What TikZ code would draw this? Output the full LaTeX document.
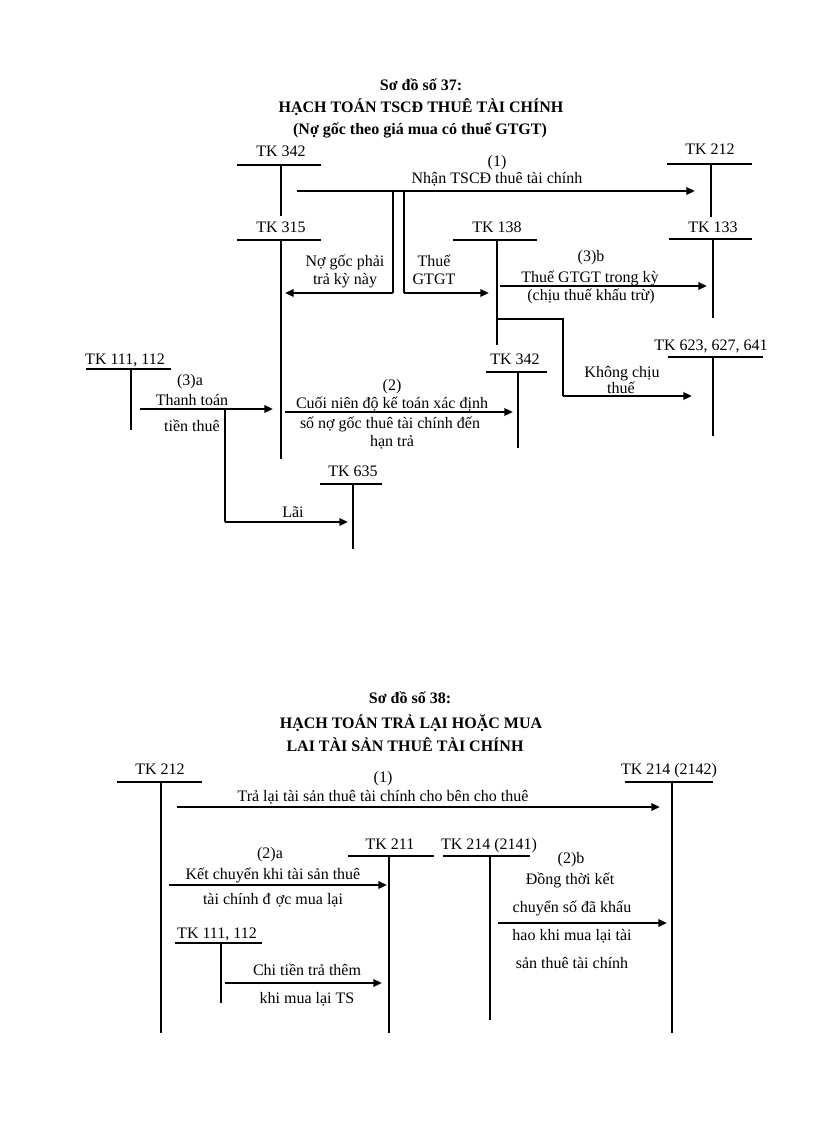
\documentclass[tikz,border=0pt]{standalone}
\usepackage{fontspec}
\setmainfont{Liberation Serif}
\usetikzlibrary{arrows.meta}
\newcommand\tacct[9]{%
  \node[lbl] (#1) at (#3,#4) {#2};
  \coordinate (#1-l) at (#5,#7);
  \coordinate (#1-r) at (#6,#7);
  \coordinate (#1-t) at (#8,#7);
  \coordinate (#1-b) at (#8,#9);
  \draw[tline] (#1-l) -- (#1-r);
  \draw[tline] (#1-t) -- (#1-b);
}
\begin{document}
\begin{tikzpicture}[x=0.75pt,y=-0.75pt,
  lbl/.style={font=\fontsize{12}{14}\selectfont, inner sep=0pt, anchor=base},
  ttl/.style={font=\fontsize{12}{14}\selectfont\bfseries, inner sep=0pt, anchor=base},
  tline/.style={line width=1.2pt},
  conn/.style={line width=1.3pt},
  arr/.style={line width=1.6pt, -{Triangle[length=6.5pt,width=5.5pt]}}]
\useasboundingbox (0,0) rectangle (816,1123);

% ---------------- Diagram 37 ----------------
\node[ttl] (t37a) at (421,91) {Sơ đồ số 37:};
\node[ttl] (t37b) at (421,113) {HẠCH TOÁN TSCĐ THUÊ TÀI CHÍNH};
\node[ttl] (t37c) at (420,135) {(Nợ gốc theo giá mua có thuế GTGT)};

\tacct{a342}{TK 342}{281}{157}{237}{321}{165}{281}{216}
\tacct{a212}{TK 212}{710}{155}{667}{752}{164}{711}{217}
\tacct{a315}{TK 315}{281}{233}{237}{321}{240}{281}{459}
\tacct{a138}{TK 138}{497}{233}{453}{537}{240}{497}{345}
\tacct{a133}{TK 133}{713}{233}{669}{752}{239}{713}{318}
\tacct{a623}{TK 623, 627, 641}{711}{350}{668}{763}{357}{713}{436}
\tacct{a342b}{TK 342}{515}{364}{486}{547}{372}{518}{448}
\tacct{a111}{TK 111, 112}{125}{364}{86}{171}{369}{131}{430}
\tacct{a635}{TK 635}{353}{476}{320}{382}{484}{353}{549}

% (1)
\coordinate (p1s) at (297,191);
\coordinate (p1e) at (695,191);
\draw[arr] (p1s) -- (p1e);
\node[lbl] (l1a) at (497,167) {(1)};
\node[lbl] (l1b) at (497,184) {Nhận TSCĐ thuê tài chính};

% branches from (1)
\coordinate (bl1) at (393,191);
\coordinate (bl2) at (393,293);
\coordinate (bl3) at (285,293);
\draw[conn] (bl1) -- (bl2);
\draw[arr] (bl2) -- (bl3);
\node[lbl] (lng1) at (345,267) {Nợ gốc phải};
\node[lbl] (lng2) at (345,284) {trả kỳ này};

\coordinate (br1) at (404,191);
\coordinate (br2) at (404,293);
\coordinate (br3) at (489,293);
\draw[conn] (br1) -- (br2);
\draw[arr] (br2) -- (br3);
\node[lbl] (lth1) at (434,267) {Thuế};
\node[lbl] (lth2) at (434,284) {GTGT};

% (3)b
\coordinate (p3bs) at (500,286);
\coordinate (p3be) at (707,286);
\draw[arr] (p3bs) -- (p3be);
\node[lbl] (l3b1) at (591,262) {(3)b};
\node[lbl] (l3b2) at (590,282) {Thuế GTGT trong kỳ};
\node[lbl] (l3b3) at (591,300) {(chịu thuế khấu trừ)};

% không chịu thuế
\coordinate (k1) at (497,319);
\coordinate (k2) at (563,319);
\coordinate (k3) at (563,396);
\coordinate (k4) at (692,396);
\draw[conn] (k1) -- (k2) -- (k3);
\draw[arr] (k3) -- (k4);
\node[lbl] (lk1) at (622,377) {Không chịu};
\node[lbl] (lk2) at (621,393) {thuế};

% (2)
\coordinate (p2s) at (285,412);
\coordinate (p2e) at (513,412);
\draw[arr] (p2s) -- (p2e);
\node[lbl] (l2a) at (392,390) {(2)};
\node[lbl] (l2b) at (392,408) {Cuối niên độ kế toán xác định};
\node[lbl] (l2c) at (390,428) {số nợ gốc thuê tài chính đến};
\node[lbl] (l2d) at (392,446) {hạn trả};

% (3)a
\coordinate (p3as) at (140,409);
\coordinate (p3ae) at (273,409);
\draw[arr] (p3as) -- (p3ae);
\node[lbl] (l3a1) at (190,385) {(3)a};
\node[lbl] (l3a2) at (192,405) {Thanh toán};
\node[lbl] (l3a3) at (192,431) {tiền thuê};

% Lãi
\coordinate (q1) at (225,409);
\coordinate (q2) at (225,522);
\coordinate (q3) at (348,522);
\draw[conn] (q1) -- (q2);
\draw[arr] (q2) -- (q3);
\node[lbl] (llai) at (293,517) {Lãi};

% ---------------- Diagram 38 ----------------
\node[ttl] (t38a) at (410,703) {Sơ đồ số 38:};
\node[ttl] (t38b) at (411,728) {HẠCH TOÁN TRẢ LẠI HOẶC MUA};
\node[ttl] (t38c) at (405,751) {LAI TÀI SẢN THUÊ TÀI CHÍNH};

\tacct{b212}{TK 212}{160}{774}{117}{202}{782}{161}{1033}
\tacct{b2142}{TK 214 (2142)}{669}{774}{625}{713}{782}{672}{1033}
\tacct{b211}{TK 211}{390}{849}{348}{434}{856}{389}{1033}
\tacct{b2141}{TK 214 (2141)}{489}{849}{443}{530}{856}{490}{1020}
\tacct{b111}{TK 111, 112}{217}{938}{175}{262}{943}{221}{1003}

% (1)
\coordinate (r1s) at (177,807);
\coordinate (r1e) at (660,807);
\draw[arr] (r1s) -- (r1e);
\node[lbl] (m1a) at (383,782) {(1)};
\node[lbl] (m1b) at (383,801) {Trả lại tài sản thuê tài chính cho bên cho thuê};

% (2)a
\coordinate (r2as) at (169,885);
\coordinate (r2ae) at (387,885);
\draw[arr] (r2as) -- (r2ae);
\node[lbl] (m2a1) at (270,858) {(2)a};
\node[lbl] (m2a2) at (273,879) {Kết chuyển khi tài sản thuê};
\node[lbl] (m2a3) at (273,904) {tài chính đ\hspace{4pt}ợc mua lại};

% chi tiền
\coordinate (r3s) at (225,983);
\coordinate (r3e) at (382,983);
\draw[arr] (r3s) -- (r3e);
\node[lbl] (m3a) at (307,975) {Chi tiền trả thêm};
\node[lbl] (m3b) at (307,1003) {khi mua lại TS};

% (2)b
\coordinate (r4s) at (498,923);
\coordinate (r4e) at (667,923);
\draw[arr] (r4s) -- (r4e);
\node[lbl] (m4a) at (571,863) {(2)b};
\node[lbl] (m4b) at (570,884) {Đồng thời kết};
\node[lbl] (m4c) at (572,912) {chuyển số đã khấu};
\node[lbl] (m4d) at (572,940) {hao khi mua lại tài};
\node[lbl] (m4e) at (572,968) {sản thuê tài chính};
\end{tikzpicture}
\end{document}
